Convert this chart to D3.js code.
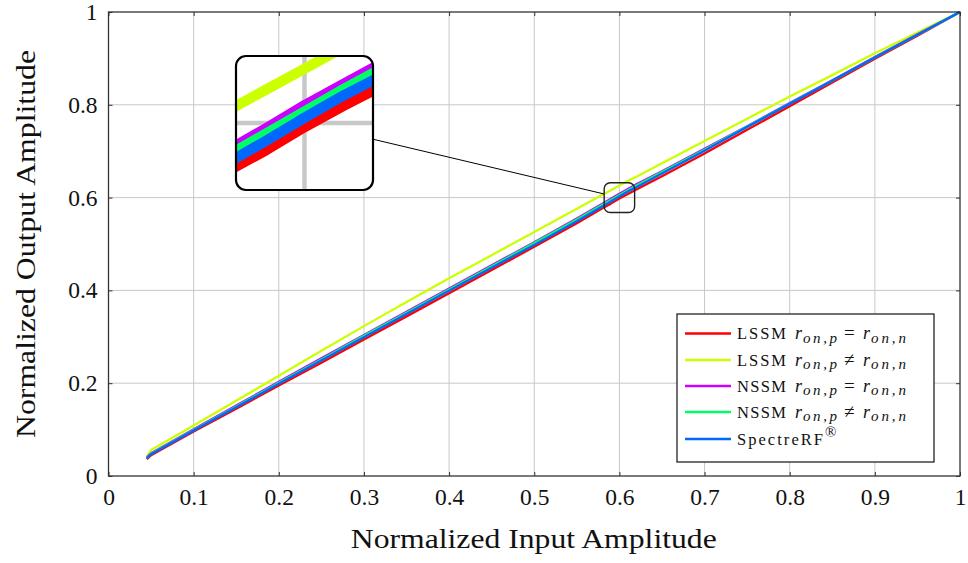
<!DOCTYPE html>
<html><head><meta charset="utf-8">
<script src="https://cdn.jsdelivr.net/npm/d3@7"></script>
<style>html,body{margin:0;padding:0;background:#fff;}svg{display:block;} text{font-family:"Liberation Serif","Times New Roman",serif;}</style>
</head><body>
<svg id="chart" width="968" height="563"></svg>
<script>
// ---- data ----
const xValues = [0.045, 0.05, 0.1, 0.15, 0.2, 0.25, 0.3, 0.35, 0.4, 0.45, 0.5, 0.55, 0.58, 0.59, 0.6, 0.61, 0.62, 0.65, 0.7, 0.75, 0.8, 0.85, 0.9, 0.95, 1.0];
const lssmEq   = [0.036, 0.045, 0.096, 0.145, 0.195, 0.244, 0.294, 0.344, 0.394, 0.444, 0.494, 0.545, 0.5770, 0.5870, 0.5980, 0.6080, 0.6175, 0.646, 0.695, 0.746, 0.797, 0.848, 0.899, 0.949, 1.0];
const lssmNeq  = [0.042, 0.056, 0.109, 0.162, 0.216, 0.270, 0.323, 0.375, 0.426, 0.476, 0.526, 0.576, 0.606, 0.616, 0.626, 0.636, 0.645, 0.674, 0.722, 0.770, 0.818, 0.864, 0.911, 0.956, 1.0];
const nssmEq   = [0.040, 0.049, 0.101, 0.152, 0.203, 0.254, 0.304, 0.354, 0.404, 0.454, 0.504, 0.555, 0.5870, 0.5975, 0.6085, 0.6185, 0.6285, 0.657, 0.705, 0.754, 0.804, 0.853, 0.903, 0.952, 1.0];
const nssmNeq  = [0.039, 0.048, 0.099, 0.150, 0.201, 0.251, 0.302, 0.352, 0.402, 0.452, 0.502, 0.553, 0.5845, 0.5950, 0.6055, 0.6160, 0.6260, 0.655, 0.703, 0.753, 0.803, 0.852, 0.902, 0.951, 1.0];
const spectre  = [0.038, 0.047, 0.098, 0.148, 0.199, 0.249, 0.299, 0.349, 0.399, 0.449, 0.498, 0.549, 0.5810, 0.5915, 0.6025, 0.6130, 0.6225, 0.652, 0.701, 0.752, 0.802, 0.852, 0.902, 0.951, 1.0];
const seriesNames = ["LSSM =", "LSSM ≠", "NSSM =", "NSSM ≠", "SpectreRF"];
const seriesColors = ["#ff0000", "#ccff00", "#cc00ff", "#00ff66", "#0068ff"];
const xTicks = [0, 0.1, 0.2, 0.3, 0.4, 0.5, 0.6, 0.7, 0.8, 0.9, 1];
const xTickLabels = ["0", "0.1", "0.2", "0.3", "0.4", "0.5", "0.6", "0.7", "0.8", "0.9", "1"];
const yTicks = [0, 0.2, 0.4, 0.6, 0.8, 1];
const yTickLabels = ["0", "0.2", "0.4", "0.6", "0.8", "1"];
const xTitle = "Normalized Input Amplitude";
const yTitle = "Normalized Output Amplitude";
const spyPoint = [0.6, 0.6];
const magnification = 4.5;

const seriesValues = [lssmEq, lssmNeq, nssmEq, nssmNeq, spectre];
const series = seriesValues.map((vals, i) => ({
  name: seriesNames[i], color: seriesColors[i],
  points: xValues.map((xv, j) => [xv, vals[j]])
}));

// ---- layout ----
const svg = d3.select("#chart");
const X0 = 108.5, X1 = 960, Y0 = 476, Y1 = 12;
const x = d3.scaleLinear().domain([0, 1]).range([X0, X1]);
const y = d3.scaleLinear().domain([0, 1]).range([Y0, Y1]);
const FONT = "Liberation Serif";
const gridColor = "#c8c8c8";
const lineWidth = 2.3;

function drawGridAndLines(g) {
  g.append("g").selectAll("line.gx").data(xTicks.slice(1, -1)).join("line")
    .attr("x1", d => x(d)).attr("x2", d => x(d)).attr("y1", Y0).attr("y2", Y1)
    .attr("stroke", gridColor).attr("stroke-width", 1);
  g.append("g").selectAll("line.gy").data(yTicks.slice(1, -1)).join("line")
    .attr("x1", X0).attr("x2", X1).attr("y1", d => y(d)).attr("y2", d => y(d))
    .attr("stroke", gridColor).attr("stroke-width", 1);
  const line = d3.line().x(d => x(d[0])).y(d => y(d[1]));
  g.append("g").selectAll("path").data(series).join("path")
    .attr("d", d => line(d.points)).attr("fill", "none")
    .attr("stroke", d => d.color).attr("stroke-width", lineWidth)
    .attr("stroke-linejoin", "round").attr("stroke-linecap", "butt");
}

// main plot
const main = svg.append("g");
drawGridAndLines(main);

// axes
const tickCol = "#333";
const axB = d3.axisBottom(x).tickValues(xTicks).tickFormat((d, i) => xTickLabels[i]).tickSizeInner(-4).tickSizeOuter(0).tickPadding(12);
const axT = d3.axisTop(x).tickValues(xTicks).tickFormat("").tickSizeInner(-4).tickSizeOuter(0);
const axL = d3.axisLeft(y).tickValues(yTicks).tickFormat((d, i) => yTickLabels[i]).tickSizeInner(-4).tickSizeOuter(0).tickPadding(11);
const axR = d3.axisRight(y).tickValues(yTicks).tickFormat("").tickSizeInner(-4).tickSizeOuter(0);
function styleAxis(g) {
  g.attr("font-family", null).attr("font-size", null);
  g.select(".domain").remove();
  g.selectAll("line").attr("stroke", tickCol).attr("stroke-width", 1);
  g.selectAll("text").style("font-family", FONT).style("font-size", "23.5px").attr("fill", "#111");
}
svg.append("g").attr("transform", `translate(0,${Y0})`).call(axB).call(styleAxis)
  .selectAll("text").attr("dy", "0.71em");
svg.append("g").attr("transform", `translate(0,${Y1})`).call(axT).call(styleAxis);
svg.append("g").attr("transform", `translate(${X0},0)`).call(axL).call(styleAxis);
svg.append("g").attr("transform", `translate(${X1},0)`).call(axR).call(styleAxis);
svg.append("rect").attr("x", X0).attr("y", Y1).attr("width", X1 - X0).attr("height", Y0 - Y1)
  .attr("fill", "none").attr("stroke", "#333").attr("stroke-width", 1.3);

// titles
svg.append("text").attr("x", (X0 + X1) / 2 - 0.5).attr("y", 548).attr("text-anchor", "middle")
  .style("font-family", FONT).style("font-size", "27px").attr("fill", "#111")
  .attr("textLength", 366).attr("lengthAdjust", "spacingAndGlyphs").text(xTitle);
svg.append("text").attr("transform", `translate(35,${244}) rotate(-90)`).attr("text-anchor", "middle")
  .style("font-family", FONT).style("font-size", "27px").attr("fill", "#111")
  .attr("textLength", 388).attr("lengthAdjust", "spacingAndGlyphs").text(yTitle);

// ---- spy (magnified inset) ----
const sx = x(spyPoint[0]), sy = y(spyPoint[1]);
const insetW = 137, insetH = 134, insetX = 236, insetY = 56;
const icx = insetX + insetW / 2, icy = insetY + insetH / 2;
const smallW = insetW / magnification, smallH = insetH / magnification;

const dx = sx - icx, dy = sy - icy;
const tIn = (insetW / 2) / dx;
const tSm = 1 - (smallW / 2) / dx;
svg.append("line")
  .attr("x1", icx + dx * tIn).attr("y1", icy + dy * tIn)
  .attr("x2", icx + dx * tSm).attr("y2", icy + dy * tSm)
  .attr("stroke", "#000").attr("stroke-width", 1);

svg.append("rect").attr("x", sx - smallW / 2).attr("y", sy - smallH / 2)
  .attr("width", smallW).attr("height", smallH).attr("rx", 6)
  .attr("fill", "none").attr("stroke", "#222").attr("stroke-width", 1.4);

const defs = svg.append("defs");
defs.append("clipPath").attr("id", "insetClip").append("rect")
  .attr("x", insetX).attr("y", insetY).attr("width", insetW).attr("height", insetH).attr("rx", 10);
const inset = svg.append("g").attr("clip-path", "url(#insetClip)");
inset.append("rect").attr("x", insetX).attr("y", insetY).attr("width", insetW).attr("height", insetH).attr("fill", "#fff");
const mag = inset.append("g")
  .attr("transform", `translate(${icx},${icy}) scale(${magnification}) translate(${-sx},${-sy})`);
drawGridAndLines(mag);
svg.append("rect").attr("x", insetX).attr("y", insetY).attr("width", insetW).attr("height", insetH).attr("rx", 10)
  .attr("fill", "none").attr("stroke", "#000").attr("stroke-width", 2.2);

// ---- legend ----
const LX = 677, LY = 314, LW = 257, LH = 148;
const leg = svg.append("g");
leg.append("rect").attr("x", LX).attr("y", LY).attr("width", LW).attr("height", LH)
  .attr("fill", "#fff").attr("stroke", "#111").attr("stroke-width", 1.2);
const rowY = [333.5, 360, 386, 412, 439];
const legendLabels = [
  { word: "LSSM", sub1: "on,p", rel: "=", sub2: "on,n" },
  { word: "LSSM", sub1: "on,p", rel: "≠", sub2: "on,n" },
  { word: "NSSM", sub1: "on,p", rel: "=", sub2: "on,n" },
  { word: "NSSM", sub1: "on,p", rel: "≠", sub2: "on,n" },
  { word: "SpectreRF", sup: "®" }
];
series.forEach((s, i) => {
  const yy = rowY[i];
  leg.append("line").attr("x1", 685).attr("x2", 731).attr("y1", yy).attr("y2", yy)
    .attr("stroke", s.color).attr("stroke-width", 2.5);
  const L = legendLabels[i];
  const base = yy + 5.5;
  if (L.sup) {
    leg.append("text").attr("x", 737).attr("y", base).style("font-family", FONT).attr("fill", "#111")
      .style("font-size", "16.5px").attr("textLength", 86).attr("lengthAdjust", "spacing").text(L.word);
    leg.append("text").attr("x", 825).attr("y", base - 8).style("font-family", FONT).attr("fill", "#111")
      .style("font-size", "15px").text(L.sup);
  } else {
    const t = leg.append("text").attr("y", base).style("font-family", FONT).attr("fill", "#111");
    t.append("tspan").attr("x", 737).style("font-size", "16.5px")
      .attr("textLength", 49).attr("lengthAdjust", "spacing").text(L.word);
    t.append("tspan").attr("x", 795).style("font-style", "italic").style("font-size", "18px").text("r");
    t.append("tspan").attr("x", 803).attr("dy", 3.5).style("font-style", "italic").style("font-size", "15px")
      .attr("textLength", 34).attr("lengthAdjust", "spacing").text(L.sub1);
    t.append("tspan").attr("x", 844).attr("dy", -3.5).style("font-size", "19px").text(L.rel);
    t.append("tspan").attr("x", 863).style("font-style", "italic").style("font-size", "18px").text("r");
    t.append("tspan").attr("x", 871).attr("dy", 3.5).style("font-style", "italic").style("font-size", "15px")
      .attr("textLength", 35).attr("lengthAdjust", "spacing").text(L.sub2);
  }
});
</script>
</body></html>
